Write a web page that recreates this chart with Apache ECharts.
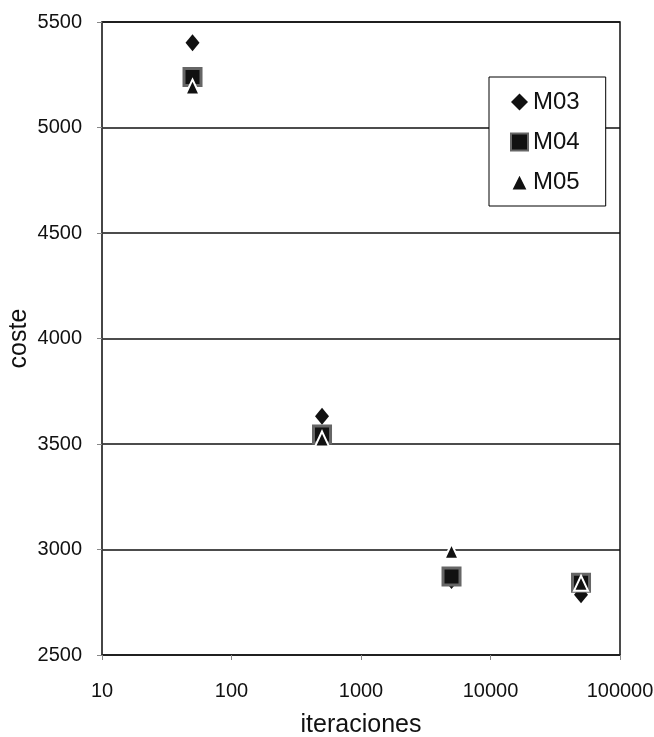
<!DOCTYPE html>
<html>
<head>
<meta charset="utf-8">
<script src="https://cdn.jsdelivr.net/npm/echarts@6/dist/echarts.min.js"></script>
<style>
  html, body { margin: 0; padding: 0; background: #fff; }
  #chart { width: 654px; height: 737px; }
</style>
</head>
<body>
<div id="chart"></div>
<script>
// iteraciones (eje x, logaritmico)
const iteraciones = [50, 500, 5000, 50000];
// coste por modelo
const m03 = [5402, 3631, 2853, 2786];
const m04 = [5239, 3545, 2872, 2843];
const m05 = [5192, 3524, 2992, 2840];
const seriesNames = ['M03', 'M04', 'M05'];

const font = 'Liberation Sans, Arial, sans-serif';

let pairs = (ys) => iteraciones.map((x, i) => [x, ys[i]]);

let chart = echarts.init(document.getElementById('chart'), null, {renderer: 'canvas'});

let option = {
    backgroundColor: '#fff',
    animation: false,
    grid: {
        left: 102, right: 34, top: 22, bottom: 82,
        outerBoundsMode: 'none',
        containLabel: false,
        show: true,
        borderColor: '#111',
        borderWidth: 1.5,
        backgroundColor: 'transparent'
    },
    legend: {
        orient: 'vertical',
        left: 489,
        top: 77,
        width: 117,
        padding: [13, 26, 12, 21],
        itemGap: 16,
        itemWidth: 17,
        itemHeight: 17,
        backgroundColor: '#fff',
        borderColor: '#000',
        borderWidth: 1,
        borderRadius: 0,
        textStyle: {fontFamily: font, fontSize: 24, color: '#111'},
        data: seriesNames
    },
    xAxis: {
        type: 'log',
        logBase: 10,
        min: 10,
        max: 100000,
        name: 'iteraciones',
        nameLocation: 'middle',
        nameGap: 58,
        nameTextStyle: {fontFamily: font, fontSize: 25, color: '#111'},
        axisLine: {show: true, lineStyle: {color: '#222', width: 1.5}},
        axisTick: {show: true, length: 5, lineStyle: {color: '#888'}},
        splitLine: {show: false},
        axisLabel: {
            fontFamily: font, fontSize: 20, color: '#111', margin: 26,
            formatter: (v) => String(Math.round(v))
        }
    },
    yAxis: {
        type: 'value',
        min: 2500,
        max: 5500,
        interval: 500,
        name: 'coste',
        nameLocation: 'middle',
        nameGap: 70,
        nameMoveOverlap: false,
        nameRotate: 90,
        nameTextStyle: {fontFamily: font, fontSize: 25, color: '#111'},
        axisLine: {show: true, lineStyle: {color: '#444', width: 1.5}},
        axisTick: {show: true, length: 5, lineStyle: {color: '#888'}},
        splitLine: {show: true, lineStyle: {color: '#111', width: 1.5}},
        axisLabel: {
            fontFamily: font, fontSize: 20, color: '#111', margin: 20,
            formatter: (v) => String(v)
        }
    },
    series: [
        {
            name: 'M03',
            type: 'scatter',
            symbol: 'diamond',
            symbolSize: [14, 17],
            itemStyle: {color: '#111', opacity: 1},
            data: pairs(m03),
            z: 2
        },
        {
            name: 'M04',
            type: 'scatter',
            symbol: 'rect',
            symbolSize: 17,
            itemStyle: {color: '#111', borderColor: '#666', borderWidth: 3, opacity: 1},
            data: pairs(m04),
            z: 3
        },
        {
            name: 'M05',
            type: 'scatter',
            symbol: 'triangle',
            symbolSize: [14, 15],
            itemStyle: {color: '#111', borderColor: '#fff', borderWidth: 2, opacity: 1},
            data: pairs(m05),
            z: 4
        }
    ]
};

chart.setOption(option);
</script>
</body>
</html>
